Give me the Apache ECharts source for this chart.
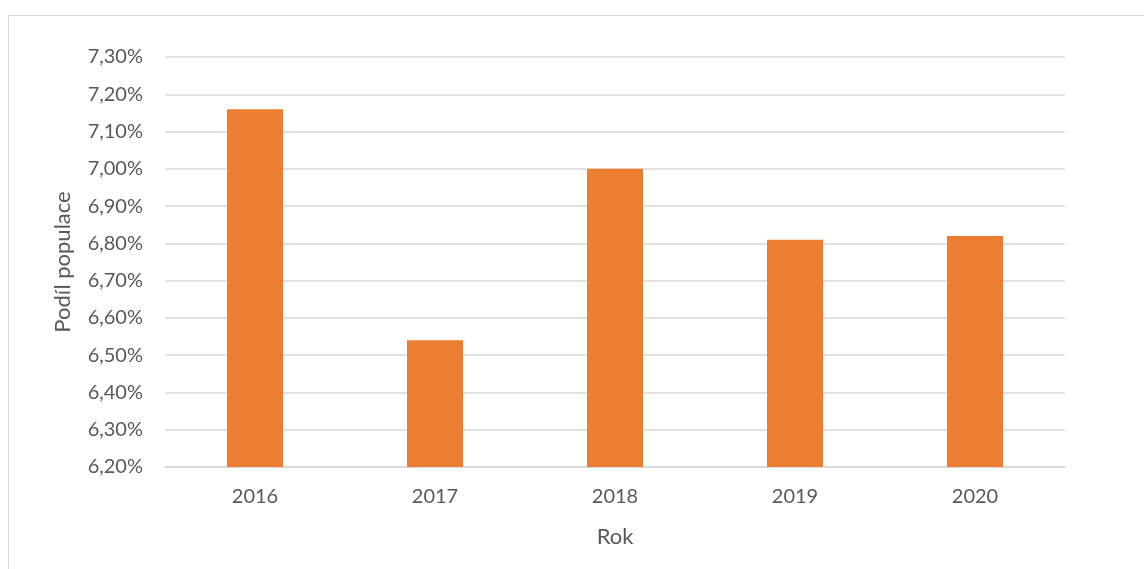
<!DOCTYPE html>
<html>
<head>
<meta charset="utf-8">
<script src="https://cdn.jsdelivr.net/npm/echarts@6/dist/echarts.min.js"></script>
<style>
html,body{margin:0;padding:0;background:#fff;}
#chart{width:1144px;height:569px;}
</style>
</head>
<body>
<div id="chart"></div>
<script>
const categories = ['2016', '2017', '2018', '2019', '2020'];
const shareValues = [7.16, 6.54, 7.00, 6.81, 6.82];
const yAxisMin = 6.2;
const yAxisMax = 7.3;
const yAxisStep = 0.1;
const yAxisTitle = 'Podíl populace';
const xAxisTitle = 'Rok';

const chart = echarts.init(document.getElementById('chart'));
const font = 'Lato, "Open Sans", sans-serif';
chart.setOption({
  animation: false,
  backgroundColor: '#fff',
  graphic: [{
    type: 'rect',
    shape: { x: 8.5, y: 15.5, width: 1150, height: 600 },
    style: { fill: 'none', stroke: '#d9d9d9', lineWidth: 1 },
    silent: true
  }],
  grid: { left: 165, right: 79, top: 57, bottom: 102 },
  xAxis: {
    type: 'category',
    data: categories,
    name: xAxisTitle,
    nameLocation: 'middle',
    nameGap: 59,
    nameTextStyle: { color: '#595959', fontSize: 22, fontFamily: font },
    axisLine: { show: true, lineStyle: { color: '#d9d9d9', width: 1.5 } },
    axisTick: { show: false },
    axisLabel: { color: '#595959', fontSize: 20, fontFamily: font, margin: 20 }
  },
  yAxis: {
    type: 'value',
    min: yAxisMin,
    max: yAxisMax,
    interval: yAxisStep,
    name: yAxisTitle,
    nameLocation: 'middle',
    nameGap: 91,
    nameTextStyle: { color: '#595959', fontSize: 22, fontFamily: font },
    axisLine: { show: false },
    axisTick: { show: false },
    splitLine: { lineStyle: { color: '#d9d9d9', width: 1.5 } },
    axisLabel: {
      color: '#595959', fontSize: 20, fontFamily: font, margin: 22,
      formatter: v => v.toFixed(2).replace('.', ',') + '%'
    }
  },
  series: [{
    type: 'bar',
    data: shareValues,
    barWidth: 56,
    itemStyle: { color: '#ED7D31' }
  }]
});
</script>
</body>
</html>
